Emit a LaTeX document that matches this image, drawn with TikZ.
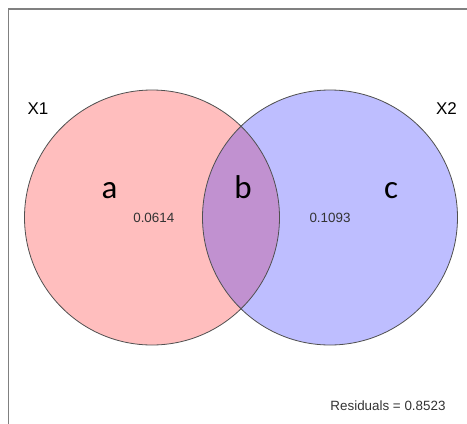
\documentclass[tikz,border=0pt]{standalone}
\usepackage{fontspec}
\setmainfont{Liberation Sans}
\newfontfamily\labelfont{Carlito}
\definecolor{setA}{RGB}{255,190,190}
\definecolor{setB}{RGB}{190,190,255}
\definecolor{setAB}{RGB}{193,145,208}
\definecolor{edge}{RGB}{80,80,80}
\definecolor{frame}{RGB}{128,128,128}
\begin{document}
\begin{tikzpicture}[x=1pt,y=-1pt,
  setlabel/.style={font=\fontsize{17}{17}\selectfont, inner sep=0pt},
  region/.style={font=\labelfont\fontsize{33}{33}\selectfont, inner sep=0pt},
  value/.style={font=\fontsize{13.4}{13.4}\selectfont, text=black!80, inner sep=0pt},
  outline/.style={draw=edge, line width=0.8pt}]
  \useasboundingbox (0,0) rectangle (467,424);
  % plot frame (only the left and top sides fall inside the page)
  \draw[frame, line width=1.3pt] (8.5,430) -- (8.5,9) -- (475,9);
  % the two sets
  \coordinate (cA) at (152,217.5);
  \coordinate (cB) at (330,217.5);
  \fill[setA] (cA) circle[radius=127.5];
  \fill[setB] (cB) circle[radius=127.5];
  \begin{scope}
    \clip (cA) circle[radius=127.5];
    \fill[setAB] (cB) circle[radius=127.5];
  \end{scope}
  \draw[outline] (cA) circle[radius=127.5];
  \draw[outline] (cB) circle[radius=127.5];
  % labels
  \node[setlabel] (x1) at (38,108.3) {X1};
  \node[setlabel] (x2) at (446.5,108.3) {X2};
  \node[region, anchor=base] (a) at (109.5,198) {a};
  \node[region, anchor=base] (b) at (243,198) {b};
  \node[region, anchor=base] (c) at (391,198) {c};
  \node[value] (va) at (153.8,218.3) {0.0614};
  \node[value] (vc) at (330,218.3) {0.1093};
  \node[value] (res) at (388,406) {Residuals = 0.8523};
\end{tikzpicture}
\end{document}
